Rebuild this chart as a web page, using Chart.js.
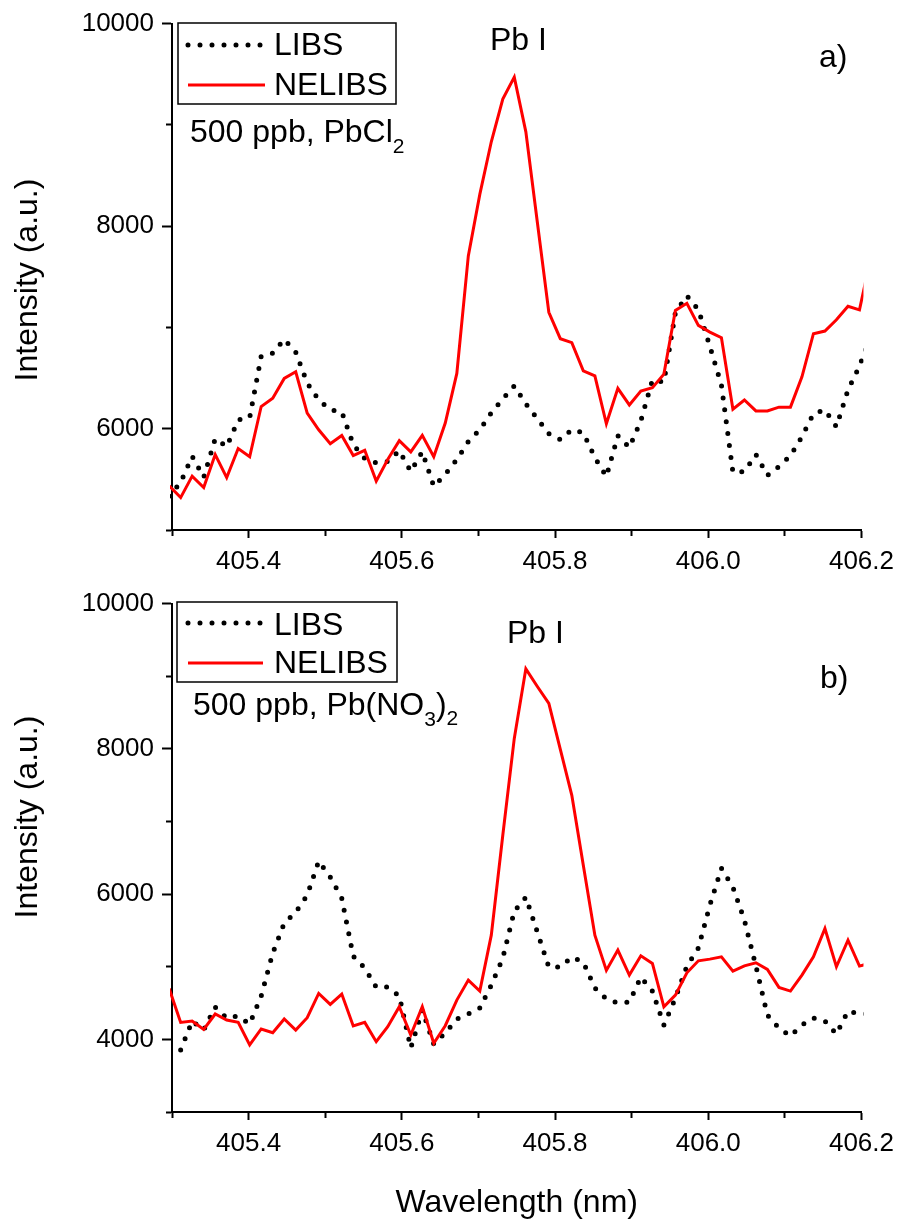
<!DOCTYPE html>
<html>
<head>
<meta charset="utf-8">
<title>Pb I line, LIBS vs NELIBS</title>
<script src="https://cdn.jsdelivr.net/npm/chart.js@4.4.1/dist/chart.umd.min.js"></script>
<style>
  html, body { margin: 0; padding: 0; background: #fff; }
  canvas { display: block; }
</style>
</head>
<body>
<canvas id="chartA" width="902" height="580"></canvas>
<canvas id="chartB" width="902" height="646"></canvas>
<script>
const FONT = "'Liberation Sans', Arial, sans-serif";

// Wavelength grid shared by every spectrum (nm)
const wavelengths = [
  405.2963, 405.3113, 405.3263, 405.3414, 405.3564, 405.3714, 405.3864, 405.4014, 405.4164, 405.4315,
  405.4465, 405.4615, 405.4765, 405.4915, 405.5066, 405.5216, 405.5366, 405.5516, 405.5666, 405.5816,
  405.5967, 405.6117, 405.6267, 405.6417, 405.6567, 405.6718, 405.6868, 405.7018, 405.7168, 405.7318,
  405.7468, 405.7619, 405.7769, 405.7919, 405.8069, 405.8219, 405.8369, 405.8520, 405.8670, 405.8820,
  405.8970, 405.9120, 405.9271, 405.9421, 405.9571, 405.9721, 405.9871, 406.0021, 406.0172, 406.0322,
  406.0472, 406.0622, 406.0772, 406.0923, 406.1073, 406.1223, 406.1373, 406.1523, 406.1673, 406.1824,
  406.1974, 406.2124
];

// a) 500 ppb, PbCl2
const libsPbCl2 = [
  5333, 5471, 5728, 5520, 5902, 5823, 6088, 6108, 6716, 6745,
  6882, 6755, 6451, 6284, 6186, 6167, 5843, 5706, 5662, 5676,
  5784, 5578, 5774, 5431, 5549, 5696, 5873, 5990, 6157, 6294,
  6422, 6245, 6098, 5951, 5892, 5990, 5961, 5716, 5529, 5931,
  5814, 6078, 6480, 6461, 7147, 7314, 7176, 6814, 6431, 5569,
  5578, 5745, 5539, 5627, 5735, 5922, 6147, 6186, 6020, 6382,
  6618, 6922
];
const nelibsPbCl2 = [
  5437, 5320, 5532, 5419, 5745, 5517, 5804, 5723, 6219, 6301,
  6497, 6562, 6154, 5990, 5853, 5934, 5735, 5787, 5483, 5696,
  5882, 5771, 5934, 5723, 6056, 6546, 7706, 8314, 8833, 9255,
  9471, 8931, 8039, 7150, 6889, 6850, 6572, 6522, 6049, 6399,
  6235, 6373, 6405, 6539, 7167, 7238, 7020, 6954, 6899, 6193,
  6284, 6176, 6176, 6213, 6213, 6513, 6938, 6964, 7075, 7209,
  7174, 7700
];

// b) 500 ppb, Pb(NO3)2
const libsPbNO3 = [
  null, 3854, 4253, 4129, 4445, 4294, 4321, 4211, 4596, 5188,
  5600, 5751, 5985, 6453, 6233, 5944, 5146, 4981, 4720, 4720,
  4596, 3881, 4404, 3936, 4088, 4280, 4349, 4431, 4748, 5119,
  5765, 5958, 5476, 4995, 4995, 5133, 5064, 4706, 4555, 4500,
  4514, 4858, 4665, 4198, 4569, 5009, 5256, 5848, 6356, 6095,
  5641, 5009, 4335, 4156, 4046, 4198, 4294, 4253, 4074, 4390,
  4349, 4349
];
const nelibsPbNO3 = [
  4700, 4234, 4253, 4138, 4349, 4266, 4234, 3923, 4143, 4092,
  4280, 4129, 4298, 4633, 4482, 4624, 4184, 4234, 3968, 4174,
  4449, 4060, 4449, 3946, 4188, 4541, 4816, 4665, 5435, 6810,
  8144, 9102, 8859, 8625, 7993, 7360, 6398, 5435, 4950, 5229,
  4885, 5150, 5046, 4449, 4610, 4917, 5082, 5105, 5137, 4940,
  5013, 5054, 4963, 4716, 4665, 4885, 5137, 5527, 5000, 5366,
  5009, 5050
];

// Axis ranges
const xRange = [405.3, 406.2];
const yRangeA = [5000, 10000];
const yRangeB = [3000, 10000];

function toPoints(values) {
  return wavelengths
    .map((x, i) => ({ x: x, y: values[i] }))
    .filter(p => p.y !== null);
}

function makeDatasets(libs, nelibs) {
  return [
    {
      label: 'LIBS', data: toPoints(libs), order: 1,
      borderColor: '#000', borderWidth: 5, borderDash: [0, 12],
      borderCapStyle: 'round', borderJoinStyle: 'round',
      pointRadius: 0, tension: 0, clip: 2
    },
    {
      label: 'NELIBS', data: toPoints(nelibs), order: 0,
      borderColor: '#ff0000', borderWidth: 3,
      pointRadius: 0, tension: 0, clip: 2
    }
  ];
}

const isMajorX = v => Math.round(v * 10) % 2 === 0;
const isMajorY = v => Math.round(v) % 2000 === 0;

function xScaleOptions(height, withTitle) {
  return {
    type: 'linear', min: xRange[0], max: xRange[1],
    border: { color: '#000', width: 2 },
    grid: {
      drawOnChartArea: false, tickLength: 8, tickWidth: 2, tickColor: '#000',
      tickBorderDash: ctx => (ctx.tick && isMajorX(ctx.tick.value)) ? [] : [5, 100]
    },
    ticks: {
      stepSize: 0.1, autoSkip: false, maxRotation: 0, padding: 8, color: '#000',
      font: { family: FONT, size: 26 },
      callback: v => isMajorX(v) ? v.toFixed(1) : ''
    },
    title: {
      display: withTitle, text: 'Wavelength (nm)', color: '#000',
      font: { family: FONT, size: 32 }, padding: { top: 0, bottom: 4 }
    },
    afterFit: scale => { scale.height = height; }
  };
}

function yScaleOptions(range) {
  return {
    type: 'linear', min: range[0], max: range[1],
    border: { color: '#000', width: 2 },
    grid: {
      drawOnChartArea: false, tickLength: 10, tickWidth: 2, tickColor: '#000',
      tickBorderDash: ctx => (ctx.tick && isMajorY(ctx.tick.value)) ? [] : [0, 4, 6, 100]
    },
    ticks: {
      stepSize: 1000, padding: 8, color: '#000',
      font: { family: FONT, size: 26 },
      callback: v => isMajorY(v) ? String(v) : ''
    },
    afterFit: scale => { scale.width = 172; }
  };
}

// Axis title, framed legend and text labels inside each panel
const panelNotes = {
  id: 'panelNotes',
  afterDraw(chart, args, opts) {
    const ctx = chart.ctx;
    ctx.save();
    ctx.fillStyle = '#000';
    ctx.textAlign = 'left';
    ctx.textBaseline = 'alphabetic';

    // y axis title, read bottom to top
    ctx.save();
    ctx.translate(opts.yTitle.x, opts.yTitle.y);
    ctx.rotate(-Math.PI / 2);
    ctx.textAlign = 'center';
    ctx.font = `32px ${FONT}`;
    ctx.fillText('Intensity (a.u.)', 0, 0);
    ctx.restore();

    // legend frame with line samples
    const lg = opts.legend;
    ctx.strokeStyle = '#000';
    ctx.lineWidth = 1.5;
    ctx.setLineDash([]);
    ctx.strokeRect(lg.box[0], lg.box[1], lg.box[2], lg.box[3]);
    chart.data.datasets.forEach((ds, i) => {
      const row = lg.rows[i];
      ctx.save();
      ctx.strokeStyle = ds.borderColor;
      ctx.lineWidth = ds.borderWidth;
      ctx.lineCap = ds.borderCapStyle || 'butt';
      ctx.setLineDash(ds.borderDash || []);
      ctx.beginPath();
      ctx.moveTo(row.x0, row.y);
      ctx.lineTo(row.x1, row.y);
      ctx.stroke();
      ctx.restore();
      ctx.font = `32px ${FONT}`;
      ctx.fillText(ds.label, lg.textX, row.base);
    });

    // free text, with subscripts as smaller runs
    opts.texts.forEach(t => {
      let x = t.x;
      t.runs.forEach(([str, size, dy]) => {
        ctx.font = `${size}px ${FONT}`;
        ctx.fillText(str, x, t.y + dy);
        x += ctx.measureText(str).width;
      });
    });
    ctx.restore();
  }
};

new Chart(document.getElementById('chartA'), {
  type: 'line',
  data: { datasets: makeDatasets(libsPbCl2, nelibsPbCl2) },
  plugins: [panelNotes],
  options: {
    responsive: false, animation: false,
    layout: { padding: { top: 21, right: 40, bottom: 0, left: 0 } },
    scales: { x: xScaleOptions(50, false), y: yScaleOptions(yRangeA) },
    plugins: {
      legend: { display: false }, tooltip: { enabled: false },
      panelNotes: {
        yTitle: { x: 37, y: 280 },
        legend: {
          box: [178, 23, 218, 81], textX: 274,
          rows: [{ x0: 188, x1: 262, y: 45, base: 55 }, { x0: 188, x1: 265, y: 85, base: 95 }]
        },
        texts: [
          { x: 190, y: 142, runs: [['500 ppb, PbCl', 32, 0], ['2', 21, 11]] },
          { x: 490, y: 50, runs: [['Pb I', 32, 0]] },
          { x: 819, y: 67, runs: [['a)', 32, 0]] }
        ]
      }
    }
  }
});

new Chart(document.getElementById('chartB'), {
  type: 'line',
  data: { datasets: makeDatasets(libsPbNO3, nelibsPbNO3) },
  plugins: [panelNotes],
  options: {
    responsive: false, animation: false,
    layout: { padding: { top: 23, right: 40, bottom: 0, left: 0 } },
    scales: { x: xScaleOptions(114, true), y: yScaleOptions(yRangeB) },
    plugins: {
      legend: { display: false }, tooltip: { enabled: false },
      panelNotes: {
        yTitle: { x: 37, y: 237 },
        legend: {
          box: [177, 22, 220, 80], textX: 274,
          rows: [{ x0: 188, x1: 262, y: 43, base: 55 }, { x0: 188, x1: 263, y: 83, base: 93 }]
        },
        texts: [
          { x: 193, y: 135, runs: [['500 ppb, Pb(NO', 32, 0], ['3', 21, 11], [')', 32, 0], ['2', 21, 10]] },
          { x: 507, y: 63, runs: [['Pb I', 32, 0]] },
          { x: 820, y: 108, runs: [['b)', 32, 0]] }
        ]
      }
    }
  }
});
</script>
</body>
</html>
